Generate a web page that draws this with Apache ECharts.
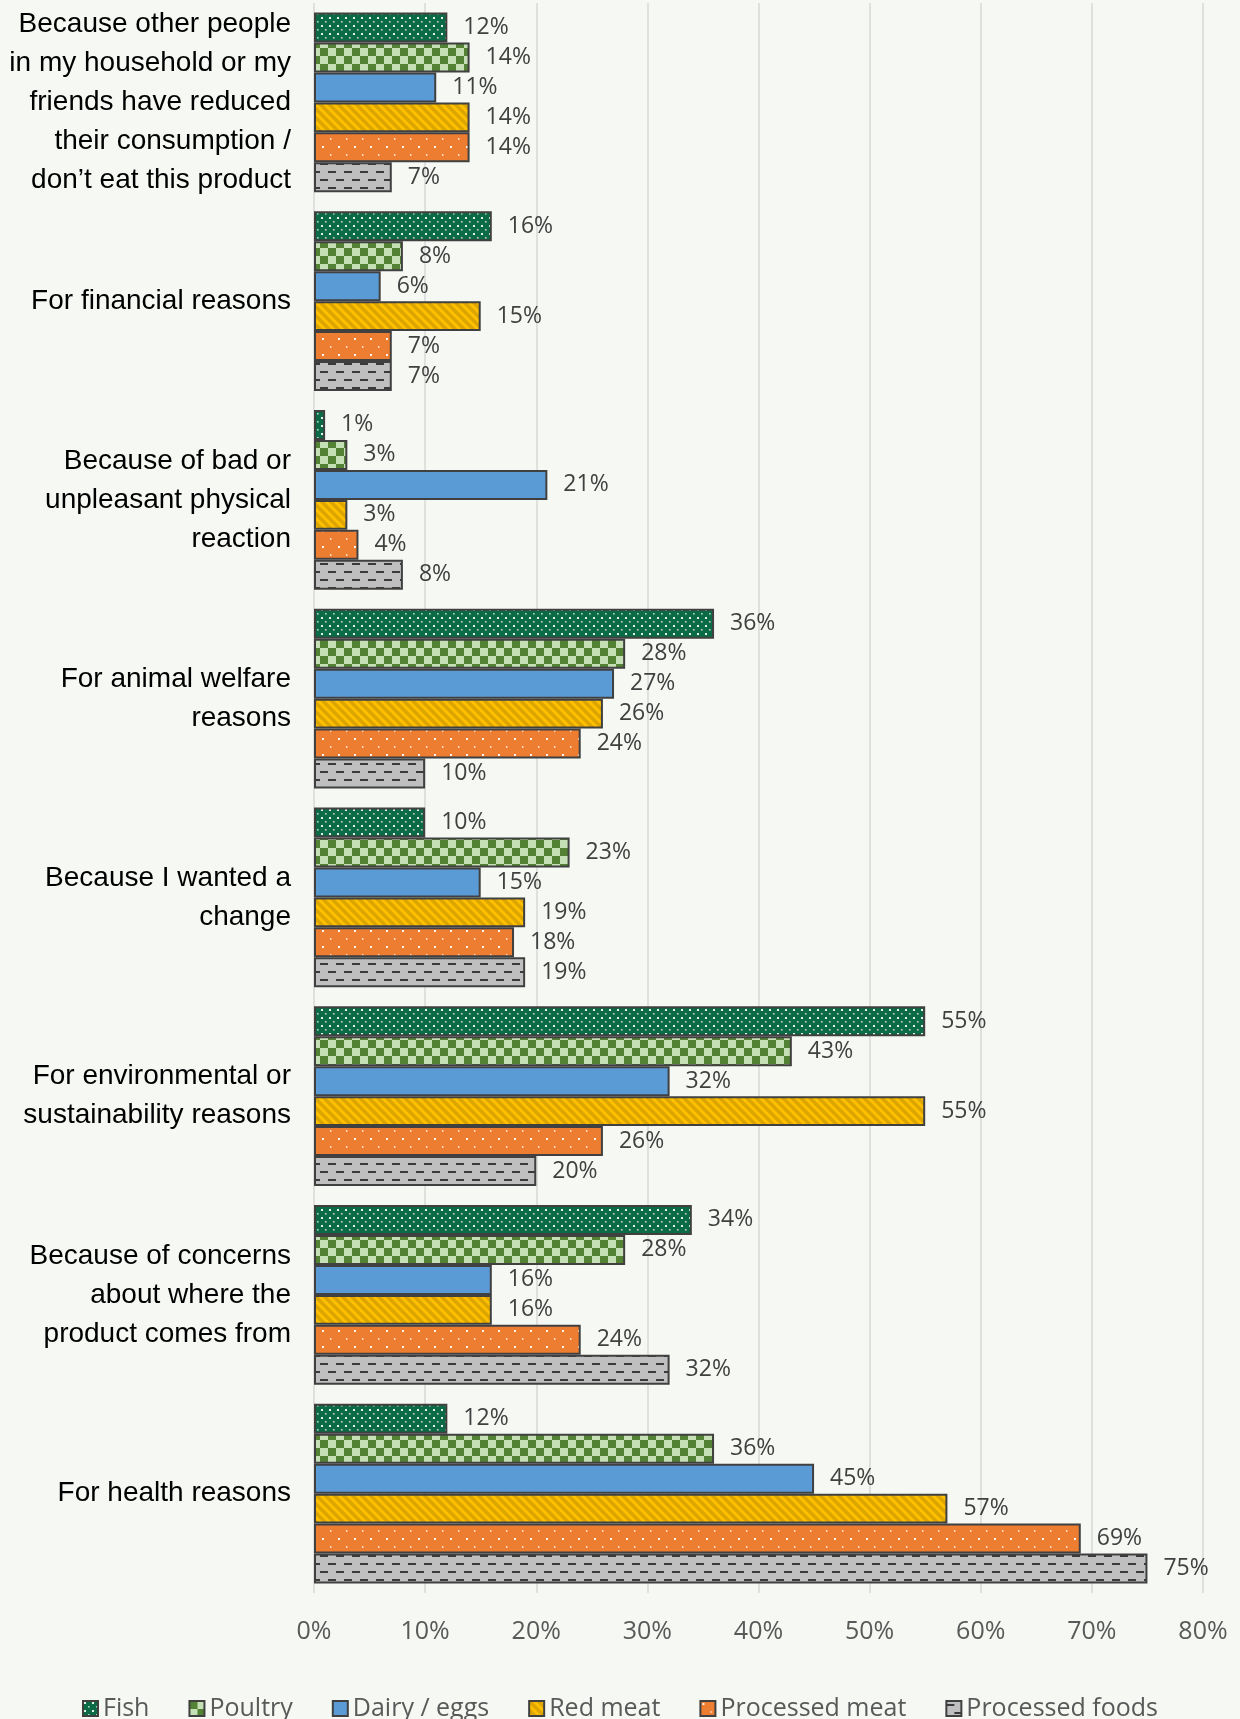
<!DOCTYPE html>
<html>
<head>
<meta charset="utf-8">
<script src="https://cdn.jsdelivr.net/npm/echarts@6/dist/echarts.min.js"></script>
<style>
  html, body { margin: 0; padding: 0; background: #F5F8F3; }
  #chart { width: 1240px; height: 1719px; }
</style>
</head>
<body>
<div id="chart"></div>
<script>
const categories = [
  "Because other people\nin my household or my\nfriends have reduced\ntheir consumption /\ndon\u2019t eat this product",
  "For financial reasons",
  "Because of bad or\nunpleasant physical\nreaction",
  "For animal welfare\nreasons",
  "Because I wanted a\nchange",
  "For environmental or\nsustainability reasons",
  "Because of concerns\nabout where the\nproduct comes from",
  "For health reasons"
];
const seriesNames = ["Fish", "Poultry", "Dairy / eggs", "Red meat", "Processed meat", "Processed foods"];
const fish = [12, 16, 1, 36, 10, 55, 34, 12];
const poultry = [14, 8, 3, 28, 23, 43, 28, 36];
const dairy = [11, 6, 21, 27, 15, 32, 16, 45];
const redMeat = [14, 15, 3, 26, 19, 55, 16, 57];
const processedMeat = [14, 7, 4, 24, 18, 26, 24, 69];
const processedFoods = [7, 7, 8, 10, 19, 20, 32, 75];
const xTicks = [0, 10, 20, 30, 40, 50, 60, 70, 80];

function makePattern(w, h, bg, draw) {
  const c = document.createElement('canvas');
  c.width = w; c.height = h;
  const g = c.getContext('2d');
  g.fillStyle = bg; g.fillRect(0, 0, w, h);
  draw(g);
  return { image: c, repeat: 'repeat' };
}
const patFish = makePattern(8, 8, '#0B6B47', g => {
  g.fillStyle = 'rgba(255,255,255,0.9)';
  g.fillRect(1, 1, 2, 2);
  g.fillStyle = 'rgba(255,255,255,0.7)';
  g.fillRect(5, 5, 1.6, 1.6);
});
const patPoultry = makePattern(16, 16, '#C5E0B4', g => {
  g.fillStyle = '#548235';
  g.fillRect(0, 0, 8, 8);
  g.fillRect(8, 8, 8, 8);
});
const patDairy = '#5B9BD5';
const patRed = makePattern(9, 9, '#FFC000', g => {
  g.strokeStyle = '#DCA500';
  g.lineWidth = 3.4;
  for (const c of [-9, 0, 9]) {
    g.beginPath(); g.moveTo(-3, c - 3); g.lineTo(12, c + 12); g.stroke();
  }
});
const patProcMeat = makePattern(16, 16, '#ED7D31', g => {
  g.fillStyle = 'rgba(255,255,255,0.9)';
  g.fillRect(2, 2, 2, 2);
  g.fillStyle = 'rgba(255,255,255,0.75)';
  g.fillRect(10, 10, 1.4, 2);
});
const patProcFoods = makePattern(16, 16, '#BFBFBF', g => {
  g.fillStyle = '#3A3A3A';
  g.fillRect(0, 3, 8, 2);
  g.fillRect(8, 11, 8, 2);
});

const values = [fish, poultry, dairy, redMeat, processedMeat, processedFoods];
const fills = [patFish, patPoultry, patDairy, patRed, patProcMeat, patProcFoods];

const chart = echarts.init(document.getElementById('chart'), null, { renderer: 'canvas' });
chart.setOption({
  backgroundColor: '#F5F8F3',
  animation: false,
  grid: { left: 314, right: 37, top: 3, bottom: 126, containLabel: false, outerBoundsMode: 'none' },
  legend: {
    data: seriesNames.map(n => ({ name: n, icon: 'rect' })),
    left: 'center',
    top: 1691,
    itemWidth: 15,
    itemHeight: 15,
    itemGap: 39,
    textStyle: { fontFamily: 'Open Sans', fontSize: 25, color: '#595959' }
  },
  xAxis: {
    type: 'value',
    min: xTicks[0],
    max: xTicks[xTicks.length - 1],
    interval: 10,
    axisLine: { show: false },
    axisTick: { show: false },
    splitLine: { show: true, lineStyle: { color: '#D9D9D9', width: 1.5 } },
    axisLabel: {
      formatter: '{value}%',
      fontFamily: 'Open Sans',
      fontSize: 25,
      color: '#595959',
      margin: 26
    }
  },
  yAxis: {
    type: 'category',
    inverse: true,
    data: categories,
    axisLine: { show: false },
    axisTick: { show: false },
    axisLabel: {
      fontFamily: 'Liberation Sans',
      fontSize: 28,
      lineHeight: 39,
      color: '#000000',
      margin: 23,
      align: 'right'
    }
  },
  series: seriesNames.map((name, i) => ({
    name: name,
    type: 'bar',
    data: values[i],
    barGap: '0%',
    barCategoryGap: '9.5%',
    itemStyle: { color: fills[i], borderColor: '#404040', borderWidth: 2 },
    label: {
      show: true,
      position: 'right',
      distance: 16,
      formatter: '{c}%',
      fontFamily: 'Open Sans',
      fontSize: 23,
      color: '#404040'
    },
    emphasis: { disabled: true }
  }))
});
</script>
</body>
</html>
